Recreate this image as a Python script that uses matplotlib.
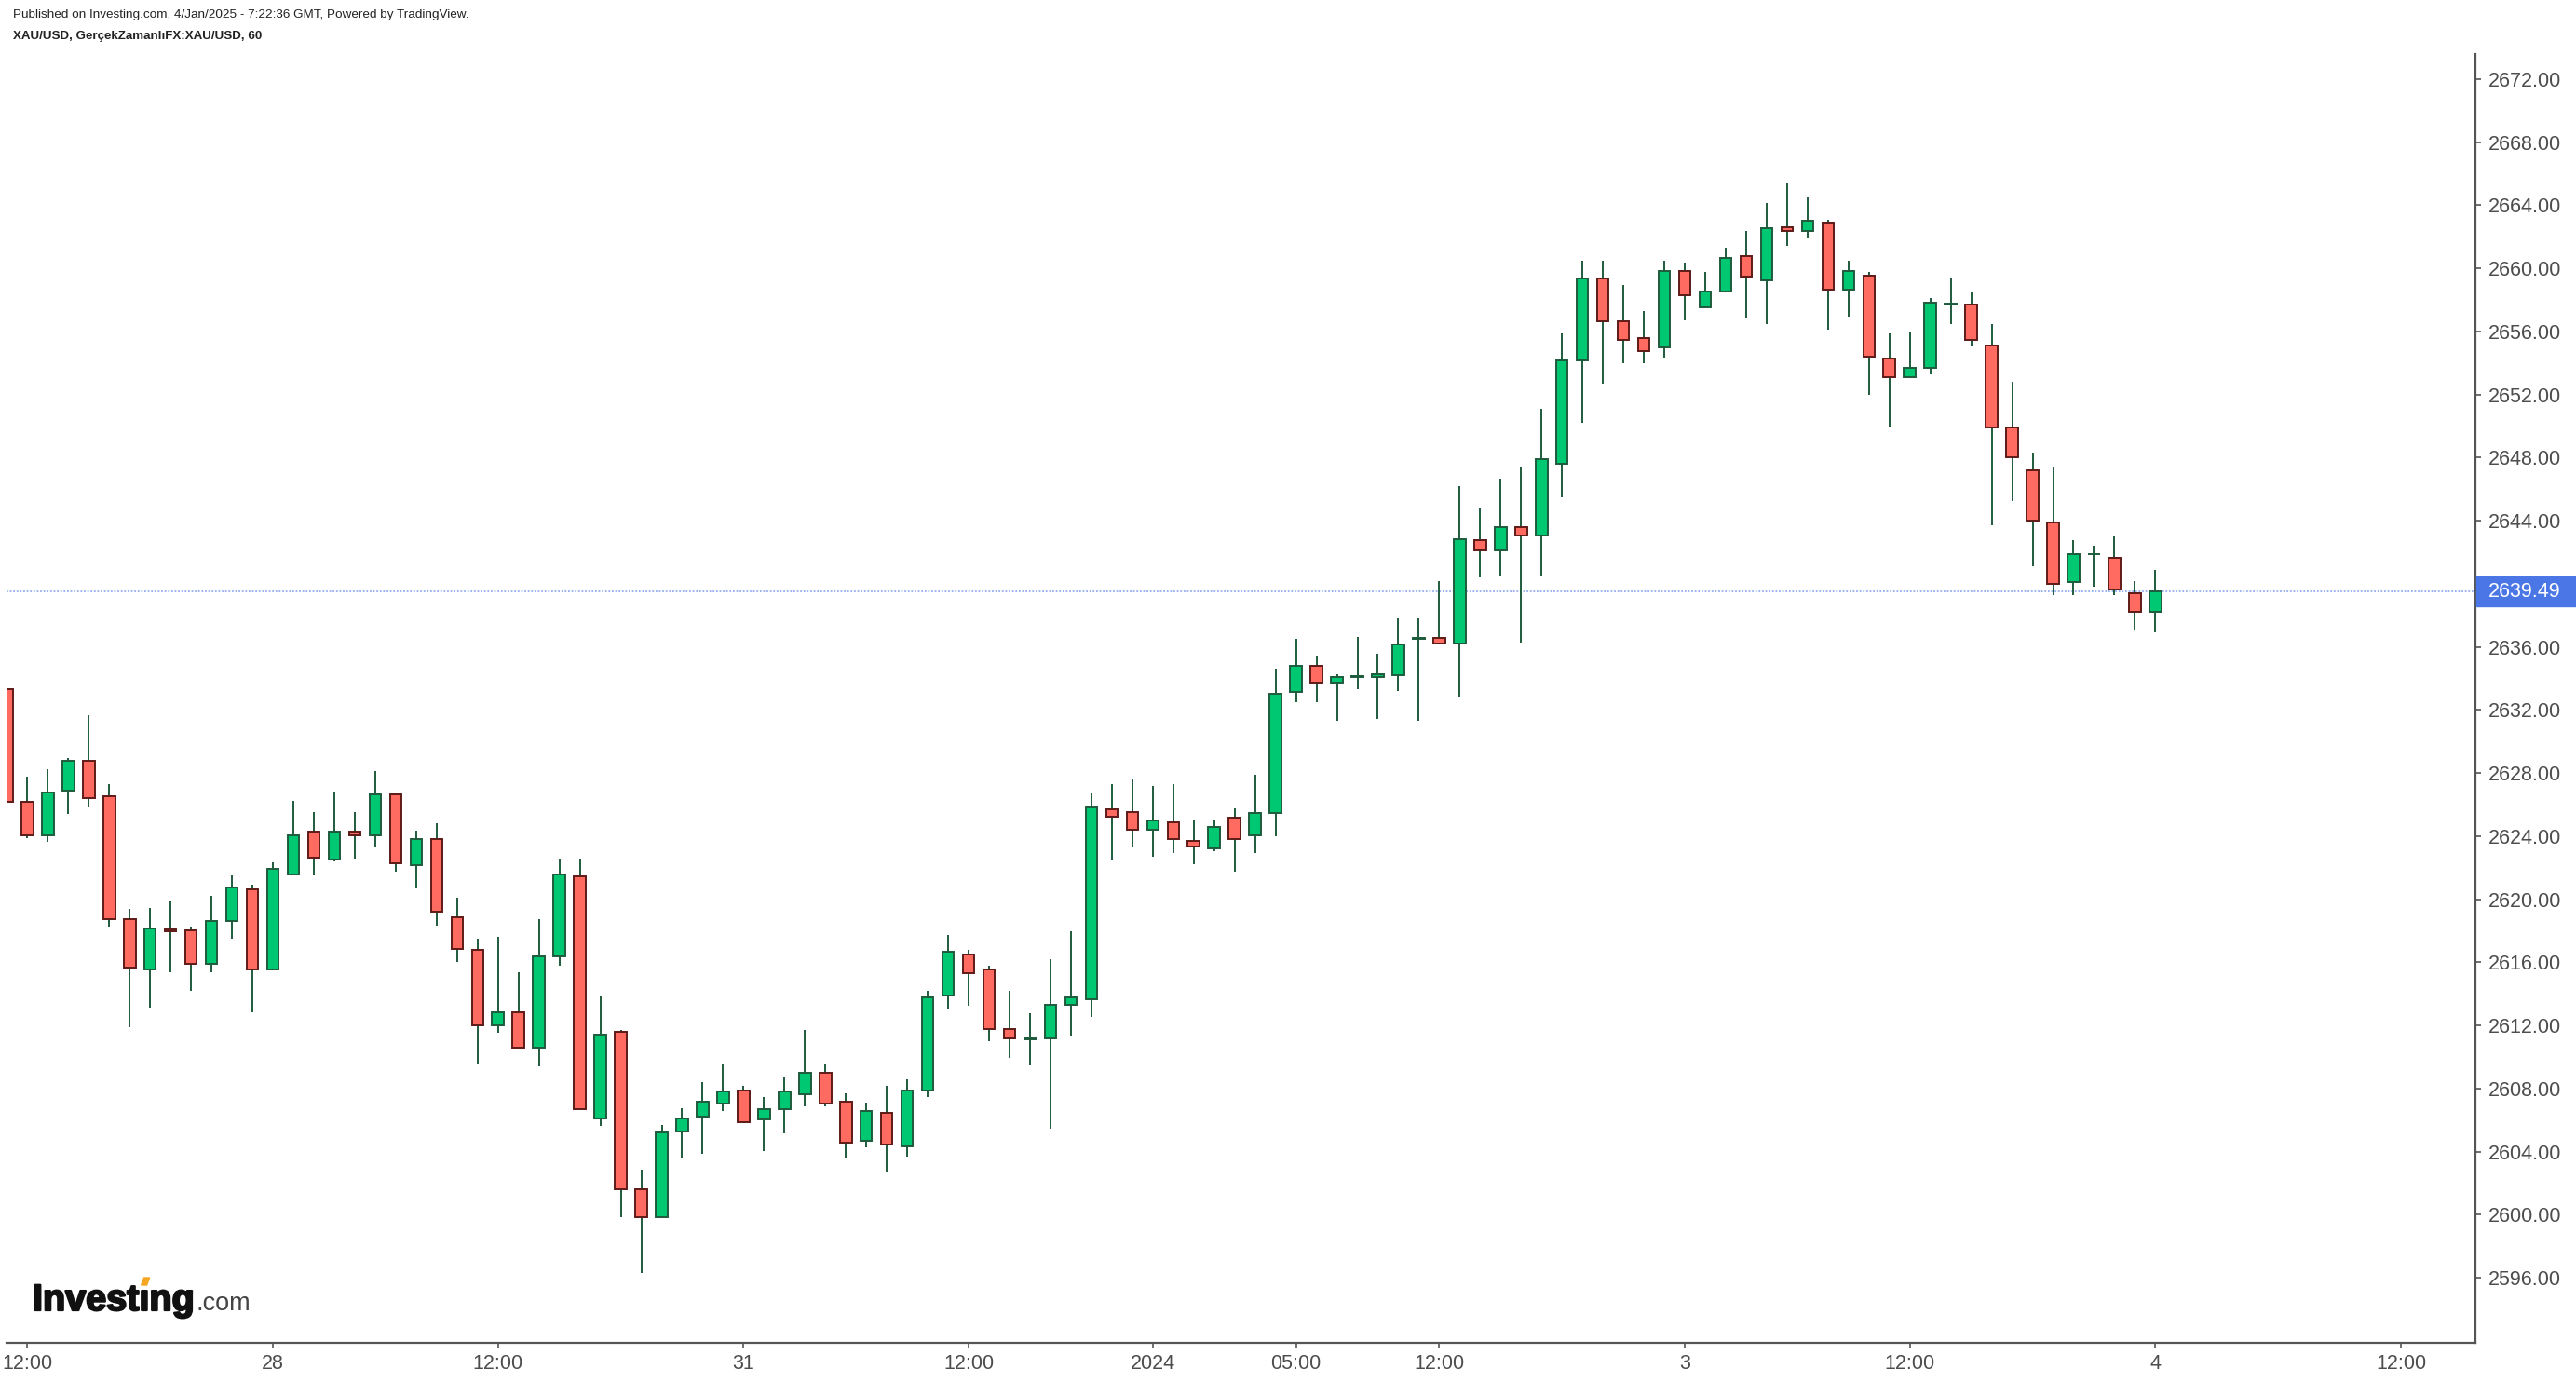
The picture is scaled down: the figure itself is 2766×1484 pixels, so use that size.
import numpy as np
import matplotlib.pyplot as plt
import matplotlib.patheffects as pe
from matplotlib.patches import Rectangle, Polygon

plt.rcParams['font.family'] = ['Liberation Sans', 'DejaVu Sans']

# hourly XAU/USD candles
opens = [2633.30, 2626.19, 2624.03, 2626.88, 2628.78, 2626.54, 2618.74, 2615.52, 2618.10, 2618.03,
         2615.92, 2618.60, 2620.63, 2615.55, 2621.56, 2624.30, 2622.50, 2624.30, 2624.06, 2626.67,
         2622.16, 2623.82, 2618.87, 2616.76, 2612.02, 2612.83, 2610.59, 2616.39, 2621.45, 2606.11,
         2611.57, 2601.63, 2599.84, 2605.28, 2606.21, 2607.02, 2607.88, 2606.07, 2606.68, 2607.61,
         2608.97, 2607.18, 2604.67, 2606.48, 2604.31, 2607.86, 2613.87, 2616.51, 2615.56, 2611.79,
         2611.10, 2611.18, 2613.28, 2613.64, 2625.70, 2625.50, 2624.39, 2624.89, 2623.69, 2623.20,
         2625.15, 2624.03, 2625.44, 2633.12, 2634.81, 2633.71, 2634.08, 2634.06, 2634.18, 2636.48,
         2636.58, 2636.21, 2642.75, 2642.10, 2643.57, 2643.04, 2647.63, 2654.15, 2659.37, 2656.64,
         2655.58, 2654.98, 2659.83, 2657.55, 2658.50, 2660.78, 2659.21, 2662.58, 2662.39, 2662.91,
         2658.63, 2659.50, 2654.28, 2653.10, 2653.68, 2657.70, 2657.72, 2655.11, 2649.91, 2647.20,
         2643.91, 2640.08, 2641.85, 2641.65, 2639.41, 2638.21]
highs = [2633.40, 2627.77, 2628.22, 2628.96, 2631.67, 2627.27, 2619.37, 2619.47, 2619.87, 2618.29,
         2620.21, 2621.50, 2620.90, 2622.32, 2626.25, 2625.54, 2626.80, 2625.54, 2628.12, 2626.75,
         2624.35, 2624.82, 2620.11, 2617.50, 2617.63, 2615.36, 2618.76, 2622.58, 2622.58, 2613.84,
         2611.70, 2602.85, 2605.67, 2606.73, 2608.38, 2609.55, 2608.15, 2607.43, 2608.76, 2611.70,
         2609.58, 2607.70, 2607.09, 2608.15, 2608.60, 2614.18, 2617.73, 2616.76, 2615.81, 2614.18,
         2612.76, 2616.19, 2617.96, 2626.68, 2627.29, 2627.65, 2627.17, 2627.29, 2625.05, 2625.05,
         2625.76, 2627.88, 2634.61, 2636.50, 2635.44, 2634.24, 2636.62, 2635.56, 2637.80, 2637.80,
         2640.16, 2646.18, 2644.78, 2646.66, 2647.36, 2651.11, 2655.87, 2660.47, 2660.47, 2658.94,
         2657.28, 2660.47, 2660.35, 2659.77, 2661.30, 2662.35, 2664.13, 2665.42, 2664.49, 2663.06,
         2660.45, 2659.74, 2655.85, 2655.96, 2658.09, 2659.39, 2658.44, 2656.43, 2652.77, 2648.32,
         2647.36, 2642.77, 2642.42, 2642.97, 2640.16, 2640.86]
lows = [2626.10, 2623.90, 2623.66, 2625.43, 2625.80, 2618.24, 2611.86, 2613.15, 2615.39, 2614.20,
        2615.39, 2617.50, 2612.81, 2615.50, 2621.56, 2621.53, 2622.37, 2622.58, 2623.32, 2621.77,
        2620.71, 2618.34, 2616.00, 2609.59, 2611.52, 2610.59, 2609.38, 2615.76, 2606.69, 2605.61,
        2599.84, 2596.29, 2599.84, 2603.61, 2603.84, 2606.55, 2605.87, 2604.06, 2605.13, 2606.89,
        2606.89, 2603.57, 2604.27, 2602.75, 2603.68, 2607.47, 2613.03, 2613.26, 2611.02, 2609.96,
        2609.49, 2605.46, 2611.36, 2612.56, 2622.47, 2623.31, 2622.70, 2622.95, 2622.23, 2623.06,
        2621.77, 2622.95, 2624.01, 2632.51, 2632.51, 2631.33, 2633.34, 2631.43, 2633.22, 2631.33,
        2636.20, 2632.86, 2640.43, 2640.53, 2636.29, 2640.53, 2645.50, 2650.22, 2652.71, 2653.99,
        2653.99, 2654.36, 2656.70, 2657.55, 2658.50, 2656.83, 2656.47, 2661.44, 2661.90, 2656.12,
        2656.95, 2651.98, 2649.97, 2653.10, 2653.28, 2656.47, 2655.07, 2643.72, 2645.25, 2641.13,
        2639.25, 2639.25, 2639.81, 2639.25, 2637.12, 2636.89]
closes = [2626.20, 2624.03, 2626.77, 2628.78, 2626.40, 2618.74, 2615.65, 2618.16, 2617.98, 2615.92,
          2618.63, 2620.77, 2615.55, 2621.92, 2624.06, 2622.64, 2624.30, 2624.03, 2626.67, 2622.27,
          2623.82, 2619.21, 2616.84, 2612.02, 2612.83, 2610.59, 2616.39, 2621.58, 2606.69, 2611.44,
          2601.61, 2599.84, 2605.19, 2606.12, 2607.18, 2607.79, 2605.87, 2606.71, 2607.79, 2608.97,
          2607.02, 2604.54, 2606.59, 2604.42, 2607.88, 2613.78, 2616.65, 2615.31, 2611.77, 2611.18,
          2611.20, 2613.30, 2613.78, 2625.84, 2625.23, 2624.39, 2625.00, 2623.81, 2623.35, 2624.56,
          2623.79, 2625.48, 2633.04, 2634.81, 2633.71, 2634.10, 2634.12, 2634.24, 2636.13, 2636.56,
          2636.21, 2642.83, 2642.10, 2643.57, 2643.04, 2647.92, 2654.18, 2659.37, 2656.64, 2655.44,
          2654.73, 2659.83, 2658.30, 2658.54, 2660.66, 2659.45, 2662.56, 2662.39, 2663.04, 2658.63,
          2659.83, 2654.38, 2653.10, 2653.70, 2657.82, 2657.75, 2655.46, 2649.89, 2648.01, 2643.99,
          2639.97, 2641.90, 2641.88, 2639.62, 2638.21, 2639.49]

# candle index of each time label on the bottom axis
tick_idx = [1, 13, 24, 36, 47, 56, 63, 70, 82, 93, 105, 117]
tick_text = ['12:00', '28', '12:00', '31', '12:00', '2024', '05:00', '12:00', '3', '12:00', '4', '12:00']

price_ticks = [2596, 2600, 2604, 2608, 2612, 2616, 2620, 2624, 2628, 2632, 2636,
               2644, 2648, 2652, 2656, 2660, 2664, 2668, 2672]
last_price = 2639.49

W, H = 2766, 1484
fig = plt.figure(figsize=(W / 100, H / 100), dpi=100)
ax = fig.add_axes([7 / W, 1 - 1441.7 / H, (2658 - 7) / W, (1441.7 - 58) / H])

o = np.array(opens)
h = np.array(highs)
l = np.array(lows)
c = np.array(closes)
x = np.arange(len(o))
up = c >= o

ax.vlines(x, l, h, color='#1e5b3c', lw=1.4, zorder=2)
ax.bar(x[up], (c - o)[up], bottom=o[up], width=0.57,
       color='#00c872', edgecolor='#1e5b3c', lw=1.4, zorder=3)
ax.bar(x[~up], (o - c)[~up], bottom=c[~up], width=0.57,
       color='#ff6b61', edgecolor='#5e1a17', lw=1.4, zorder=3)

ax.axhline(last_price, color='#93adef', lw=1.3, ls=(0, (1, 1)), zorder=1)

ax.set_xlim(-0.02, 120.64)
ax.set_ylim(2591.89, 2673.58)

for s in ['top', 'left']:
    ax.spines[s].set_visible(False)
for s in ['right', 'bottom']:
    ax.spines[s].set_color('#555555')
    ax.spines[s].set_linewidth(1.6)

ax.yaxis.tick_right()
ax.set_yticks(price_ticks, [f'{v:.2f}' for v in price_ticks])
ax.set_xticks(tick_idx, tick_text)
ax.tick_params(axis='both', colors='#555555', labelcolor='#4d4d4d',
               length=4, width=1.2, labelsize=15.5)
ax.tick_params(axis='y', pad=6)
ax.tick_params(axis='x', pad=5)

# current price tag on the right scale
y_px = ax.transData.transform((0, last_price))[1]
fig.patches.append(Rectangle((2659 / W, (y_px - 16) / H), (W - 2659) / W, 32 / H,
                             transform=fig.transFigure, color='#4a77e5', zorder=5))
fig.text(2672 / W, y_px / H, f'{last_price:.2f}', color='white',
         va='center', size=15.5, zorder=6)

# header
fig.text(14 / W, 1 - 16 / H,
         'Published on Investing.com, 4/Jan/2025 - 7:22:36 GMT, Powered by TradingView.',
         va='center', size=9.7, color='#222222')
fig.text(14 / W, 1 - 39 / H, 'XAU/USD, GerçekZamanlıFX:XAU/USD, 60',
         va='center', size=9.6, weight='bold', color='#222222')

# Investing.com logo
r = fig.canvas.get_renderer()
base = 1 - 1407 / H
heavy = [pe.withStroke(linewidth=1.6, foreground='#111111')]
logo = fig.text(35 / W, base, 'Investıng', size=28.5, weight='bold', va='baseline',
                color='#111111', path_effects=heavy)
bb = logo.get_window_extent(r)
fig.text((bb.x1 + 1) / W, base, '.com', size=19.5, va='baseline', color='#444444')
tmp = fig.text(35 / W, base, 'Invest', size=28.5, weight='bold', va='baseline')
cx = tmp.get_window_extent(r).x1 + 6
tmp.remove()
yb = H - 1407
fig.patches.append(Polygon([((cx - 4) / W, (yb + 27) / H), ((cx + 2) / W, (yb + 27) / H),
                            ((cx + 5) / W, (yb + 35) / H), ((cx - 1) / W, (yb + 35) / H)],
                           closed=True, transform=fig.transFigure, color='#f5a623'))

fig.savefig('out.png', dpi=100)
